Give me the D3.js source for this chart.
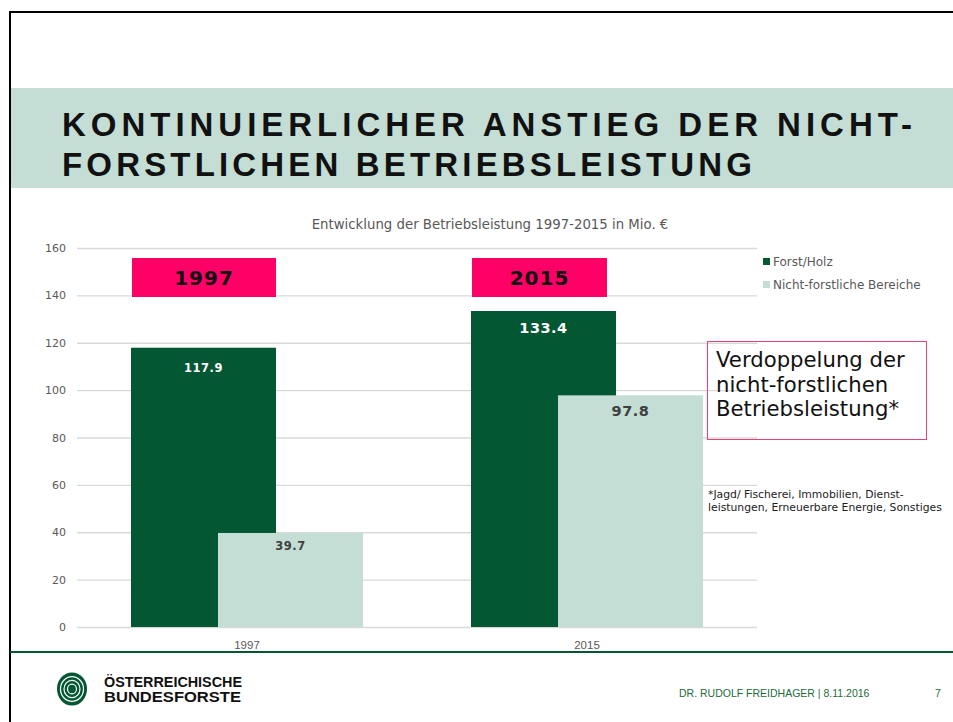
<!DOCTYPE html>
<html>
<head>
<meta charset="utf-8">
<script src="https://cdn.jsdelivr.net/npm/d3@7"></script>
<style>
  body { margin: 0; background: #fff; }
  svg { display: block; }
</style>
</head>
<body>
<div id="chart"></div>
<script>
// data
var years = ["1997", "2015"];
var series = ["Forst/Holz", "Nicht-forstliche Bereiche"];
var forst = [117.9, 133.4];
var nichtForst = [39.7, 97.8];
var yTicks = [0, 20, 40, 60, 80, 100, 120, 140, 160];
var titleLines = ["KONTINUIERLICHER ANSTIEG DER NICHT-", "FORSTLICHEN BETRIEBSLEISTUNG"];
var noteLines = ["Verdoppelung der", "nicht-forstlichen", "Betriebsleistung*"];
var footLines = ["*Jagd/ Fischerei, Immobilien, Dienst-", "leistungen, Erneuerbare Energie, Sonstiges"];

var width = 953, height = 722;
var dkGreen = "#035732", ltGreen = "#c4ddd5", pink = "#ff0066";
var font = "DejaVu Sans, Verdana, sans-serif";
var font2 = "Liberation Sans, Arial, sans-serif";

var svg = d3.select("#chart").append("svg")
    .attr("width", width).attr("height", height)
    .style("font-family", font);

// slide frame
svg.append("line").attr("x1", 10).attr("x2", width).attr("y1", 12).attr("y2", 12)
    .attr("stroke", "#000").attr("stroke-width", 2);
svg.append("line").attr("x1", 10).attr("x2", 10).attr("y1", 11).attr("y2", height)
    .attr("stroke", "#000").attr("stroke-width", 2);

// title band
svg.append("rect").attr("x", 11).attr("y", 88).attr("width", width - 11).attr("height", 100)
    .attr("fill", ltGreen);
var titleLen = [850, 690];
svg.selectAll("text.title").data(titleLines).enter().append("text")
    .attr("class", "title")
    .attr("x", 62).attr("y", (d, i) => 136 + i * 40)
    .style("font-family", font2)
    .attr("font-size", 33).attr("font-weight", "bold")
    .attr("textLength", (d, i) => titleLen[i]).attr("lengthAdjust", "spacing")
    .attr("fill", "#111")
    .text(d => d);

// scales
var y = d3.scaleLinear().domain([0, 160]).range([627, 248]);
var x = d3.scaleBand().domain(years).range([77, 757]);
var barW = 145, shift = 87;

// grid + y labels
var g = svg.append("g");
g.selectAll("line.grid").data(yTicks).enter().append("line")
    .attr("x1", 77).attr("x2", 757)
    .attr("y1", d => y(d) + 0.5).attr("y2", d => y(d) + 0.5)
    .attr("stroke", "#d9d9d9").attr("stroke-width", 1.3);
g.selectAll("text.ytick").data(yTicks).enter().append("text")
    .attr("x", 66).attr("y", d => y(d) + 4)
    .attr("text-anchor", "end").attr("font-size", 11).attr("fill", "#595959")
    .text(d => d);

// chart title
svg.append("text").attr("x", 490).attr("y", 229).attr("text-anchor", "middle")
    .attr("font-size", 13.3).attr("fill", "#595959")
    .text("Entwicklung der Betriebsleistung 1997-2015 in Mio. €");

// bars
var groups = svg.selectAll("g.year").data(years).enter().append("g")
    .attr("class", "year")
    .attr("transform", d => "translate(" + (x(d) + x.bandwidth() / 2) + ",0)");

groups.append("rect")
    .attr("x", -116).attr("width", barW)
    .attr("y", (d, i) => y(forst[i])).attr("height", (d, i) => y(0) - y(forst[i]))
    .attr("fill", dkGreen);
groups.append("rect")
    .attr("x", -116 + shift).attr("width", barW)
    .attr("y", (d, i) => y(nichtForst[i])).attr("height", (d, i) => y(0) - y(nichtForst[i]))
    .attr("fill", ltGreen);

// value labels
groups.append("text")
    .attr("x", -116 + barW / 2)
    .attr("y", (d, i) => y(forst[i]) + (i == 0 ? 24 : 22))
    .attr("text-anchor", "middle").attr("font-weight", "bold")
    .attr("font-size", (d, i) => i == 0 ? 11.5 : 14.5).attr("letter-spacing", 0.5)
    .attr("fill", "#fff")
    .text((d, i) => forst[i].toFixed(1));
groups.append("text")
    .attr("x", -116 + shift + barW / 2)
    .attr("y", (d, i) => y(nichtForst[i]) + (i == 0 ? 17 : 21))
    .attr("text-anchor", "middle").attr("font-weight", "bold")
    .attr("font-size", (d, i) => i == 0 ? 11.5 : 14.5).attr("letter-spacing", 0.5)
    .attr("fill", "#404040")
    .text((d, i) => nichtForst[i].toFixed(1));

// pink year boxes
groups.append("rect")
    .attr("x", -115).attr("y", 258)
    .attr("width", (d, i) => i == 0 ? 144 : 135).attr("height", 39)
    .attr("fill", pink);
groups.append("text")
    .attr("x", (d, i) => -115 + (i == 0 ? 72 : 67.5)).attr("y", 285)
    .attr("text-anchor", "middle").attr("font-weight", "bold")
    .attr("font-size", 20).attr("letter-spacing", 1).attr("fill", "#111")
    .text(d => d);

// category labels
groups.append("text")
    .attr("y", 649).attr("text-anchor", "middle")
    .style("font-family", font2)
    .attr("font-size", 11.5).attr("fill", "#595959")
    .text(d => d);

// legend
var leg = svg.selectAll("g.leg").data(series).enter().append("g")
    .attr("class", "leg")
    .attr("transform", (d, i) => "translate(763," + (258 + i * 23) + ")");
leg.append("rect").attr("width", 7).attr("height", 7)
    .attr("fill", (d, i) => i == 0 ? dkGreen : ltGreen);
leg.append("text").attr("x", 10).attr("y", 8)
    .attr("font-size", 12).attr("fill", "#595959")
    .text(d => d);

// annotation box
svg.append("rect").attr("x", 707.5).attr("y", 341.5).attr("width", 219).attr("height", 98)
    .attr("fill", "none").attr("stroke", "#ea3e7e").attr("stroke-width", 1);
svg.selectAll("text.note").data(noteLines).enter().append("text")
    .attr("class", "note")
    .attr("x", 716).attr("y", (d, i) => 367 + i * 24.5)
    .attr("font-size", 21.2).attr("fill", "#111")
    .text(d => d);

svg.selectAll("text.foot").data(footLines).enter().append("text")
    .attr("class", "foot")
    .attr("x", 708).attr("y", (d, i) => 498 + i * 13)
    .attr("font-size", 10.8).attr("fill", "#222")
    .text(d => d);

// bottom line
svg.append("line").attr("x1", 10).attr("x2", width).attr("y1", 652).attr("y2", 652)
    .attr("stroke", dkGreen).attr("stroke-width", 2);

// logo
var logo = svg.append("g").attr("transform", "translate(72,689)");
logo.append("ellipse").attr("rx", 15).attr("ry", 16.5).attr("fill", dkGreen);
[11.5, 8, 4.5].forEach(function (r) {
    logo.append("ellipse").attr("rx", r).attr("ry", r * 1.08)
        .attr("fill", "none").attr("stroke", "#fff").attr("stroke-width", 1.2);
});
svg.append("text").attr("x", 104).attr("y", 687)
    .style("font-family", font2)
    .attr("font-size", 14).attr("font-weight", "bold").attr("fill", "#111")
    .attr("textLength", 138).attr("lengthAdjust", "spacingAndGlyphs")
    .text("ÖSTERREICHISCHE");
svg.append("text").attr("x", 104).attr("y", 702)
    .style("font-family", font2)
    .attr("font-size", 14).attr("font-weight", "bold").attr("fill", "#111")
    .attr("textLength", 137).attr("lengthAdjust", "spacingAndGlyphs")
    .text("BUNDESFORSTE");

// footer
svg.append("text").attr("x", 679).attr("y", 697)
    .style("font-family", font2)
    .attr("font-size", 10.5).attr("fill", "#1e6b3c")
    .text("DR. RUDOLF FREIDHAGER | 8.11.2016");
svg.append("text").attr("x", 935).attr("y", 697)
    .style("font-family", font2)
    .attr("font-size", 10.5).attr("fill", "#1e6b3c")
    .text("7");
</script>
</body>
</html>
